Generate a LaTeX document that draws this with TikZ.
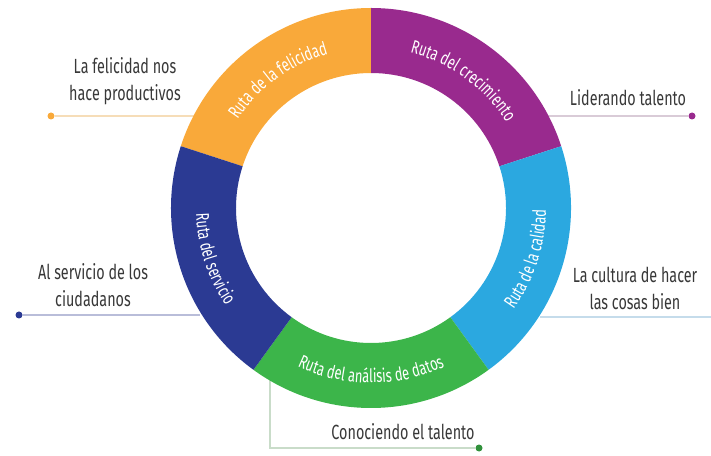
\documentclass[tikz,border=0pt]{standalone}
\usepackage{fontspec}
\setmainfont{Fira Sans}
\newfontfamily\labelfont{Fira Sans}[FakeStretch=0.7]
\usetikzlibrary{decorations.text,positioning}

\definecolor{rutaOrange}{HTML}{F9A93A}
\definecolor{rutaPurple}{HTML}{992A8E}
\definecolor{rutaCyan}{HTML}{2BA8E0}
\definecolor{rutaGreen}{HTML}{3CB54A}
\definecolor{rutaBlue}{HTML}{2B3A93}
\definecolor{labelGray}{HTML}{383838}

\newcommand\ringfont{\labelfont\fontsize{18.5}{18.5}\selectfont}

\begin{document}
\begin{tikzpicture}[x=1pt,y=1pt,
  lbl/.style={font=\labelfont\fontsize{20.5}{27}\selectfont,text=labelGray,align=center},
  dot/.style={circle,inner sep=0pt,minimum size=7pt},
  lead/.style={line width=1.2pt},
  ringtext/.style={decorate,decoration={text along path,text align=center,
    text={|\ringfont\color{white}|#1}}}
]
\useasboundingbox (0,0) rectangle (711,455);

% leader lines (drawn under the ring)
\node[dot,fill=rutaOrange] (felDot) at (51,339) {};
\node[dot,fill=rutaPurple] (lidDot) at (692,339) {};
\node[dot,fill=rutaBlue] (serDot) at (19,140) {};
\node[dot,fill=rutaGreen!80!black] (conDot) at (479,7) {};
\coordinate (felEnd) at (200,339);
\coordinate (lidEnd) at (545,339);
\coordinate (serEnd) at (200,140);
\coordinate (culEnd) at (540,138);
\coordinate (culFree) at (711,138);
\coordinate (conEnd) at (270,80);

\draw[lead,color={rgb,255:red,246;green,221;blue,184}] (felDot) -- (felEnd);
\draw[lead,color={rgb,255:red,217;green,203;blue,215}] (lidEnd) -- (lidDot);
\draw[lead,color={rgb,255:red,185;green,189;blue,217}] (serDot) -- (serEnd);
\draw[lead,color={rgb,255:red,197;green,220;blue,235}] (culEnd) -- (culFree);
\draw[lead,color={rgb,255:red,201;green,220;blue,201}] (conEnd) |- (conDot);

% ring
\begin{scope}[shift={(371,247)}]
  \fill[rutaOrange] (90:200) arc[start angle=90,end angle=162,radius=200]
    -- (162:135) arc[start angle=162,end angle=90,radius=135] -- cycle;
  \fill[rutaPurple] (18:200) arc[start angle=18,end angle=90,radius=200]
    -- (90:135) arc[start angle=90,end angle=18,radius=135] -- cycle;
  \fill[rutaCyan] (-54:200) arc[start angle=-54,end angle=18,radius=200]
    -- (18:135) arc[start angle=18,end angle=-54,radius=135] -- cycle;
  \fill[rutaGreen] (-126:200) arc[start angle=-126,end angle=-54,radius=200]
    -- (-54:135) arc[start angle=-54,end angle=-126,radius=135] -- cycle;
  \fill[rutaBlue] (162:200) arc[start angle=162,end angle=234,radius=200]
    -- (234:135) arc[start angle=234,end angle=162,radius=135] -- cycle;

  \path[ringtext=Ruta de la felicidad] (162:160) arc[start angle=162,end angle=90,radius=160];
  \path[ringtext=Ruta del crecimiento] (90:160) arc[start angle=90,end angle=18,radius=160];
  \path[ringtext=Ruta de la calidad] (-54:175) arc[start angle=-54,end angle=18,radius=175];
  \path[ringtext=Ruta del análisis de datos] (-126:175) arc[start angle=-126,end angle=-54,radius=175];
  \path[ringtext=Ruta del servicio] (162:175) arc[start angle=162,end angle=234,radius=175];
\end{scope}

% labels
\node[lbl] (felText) at (125,374) {La felicidad nos\\hace productivos};
\node[lbl] (lidText) at (628,357) {Liderando talento};
\node[lbl] (serText) at (93,170) {Al servicio de los\\ciudadanos};
\node[lbl] (culText) at (635,167) {La cultura de hacer\\las cosas bien};
\node[lbl] (conText) at (403,23) {Conociendo el talento};
\end{tikzpicture}
\end{document}
